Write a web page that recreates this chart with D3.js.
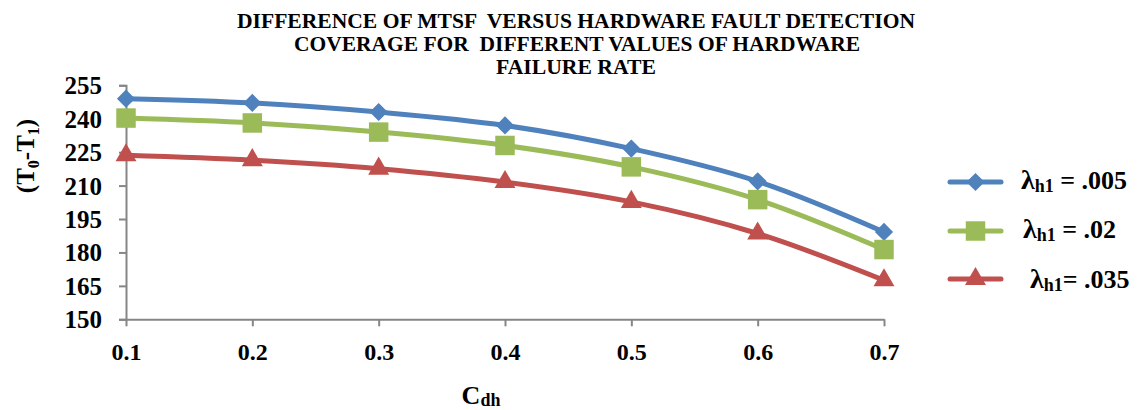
<!DOCTYPE html>
<html><head><meta charset="utf-8">
<script src="https://cdn.jsdelivr.net/npm/d3@7"></script>
<style>
body{margin:0;background:#fff;}
svg{display:block;font-family:"Liberation Serif","Times New Roman",serif;font-weight:bold;}
text{white-space:pre;}
</style></head>
<body><svg id="c" width="1140" height="410"></svg>
<script>
const categories = [0.1, 0.2, 0.3, 0.4, 0.5, 0.6, 0.7];
const series005 = [249, 247.1, 243, 237, 226.6, 211.9, 189.2];
const series02  = [240.3, 238.1, 234, 228, 218.4, 203.7, 181.3];
const series035 = [223.6, 221.4, 217.6, 211.6, 202.7, 188.5, 167.5];
const yTicks = [150, 165, 180, 195, 210, 225, 240, 255];
const seriesNames = [".005", ".02", ".035"];
const titleLines = ["DIFFERENCE OF MTSF  VERSUS HARDWARE FAULT DETECTION",
                    "COVERAGE FOR  DIFFERENT VALUES OF HARDWARE",
                    "FAILURE RATE"];

const svg = d3.select("#c");
const x = d3.scaleLinear().domain([0.1, 0.7]).range([126, 884]);
const y = d3.scaleLinear().domain([150, 255]).range([319.3, 85.3]);
const axisColor = "#868686";
const serif = "Liberation Serif";

// Title
const titleWidths = [678, 566, 160];
const titleCx = [576, 577, 576];
titleLines.forEach((t, i) => {
  svg.append("text").attr("x", titleCx[i] - titleWidths[i] / 2).attr("y", 27.5 + i * 23.3)
    .attr("font-size", 22).attr("textLength", titleWidths[i]).attr("lengthAdjust", "spacingAndGlyphs")
    .text(t);
});

// Y axis
const yAxis = svg.append("g").attr("transform", "translate(126,0)")
  .call(d3.axisLeft(y).tickValues(yTicks).tickSize(7).tickFormat(d3.format("d")));
yAxis.select(".domain").attr("stroke", axisColor).attr("stroke-width", 2);
yAxis.selectAll(".tick line").attr("stroke", axisColor).attr("stroke-width", 2);
yAxis.selectAll(".tick text").attr("font-size", 25).attr("font-family", serif)
  .attr("font-weight", "bold").attr("fill", "#000").attr("x", -24).attr("dy", "0.34em");

// X axis
const xAxis = svg.append("g").attr("transform", "translate(0,319.3)")
  .call(d3.axisBottom(x).tickValues(categories).tickSize(7).tickSizeOuter(0).tickFormat(d3.format(".1f")));
xAxis.select(".domain").attr("stroke", axisColor).attr("stroke-width", 2);
xAxis.selectAll(".tick line").attr("stroke", axisColor).attr("stroke-width", 2);
xAxis.selectAll(".tick text").attr("font-size", 24).attr("font-family", serif)
  .attr("font-weight", "bold").attr("fill", "#000").attr("y", 40.5).attr("dy", 0);

// Axis titles
const yl = svg.append("text").attr("transform", "translate(34,156) rotate(-90)")
  .attr("text-anchor", "middle").attr("font-size", 25);
yl.append("tspan").text("(T");
yl.append("tspan").attr("font-size", 16).attr("dy", 5).text("0");
yl.append("tspan").attr("dy", -5).text("-T");
yl.append("tspan").attr("font-size", 16).attr("dy", 5).text("1");
yl.append("tspan").attr("dy", -5).text(")");

const xl = svg.append("text").attr("x", 481).attr("y", 404).attr("text-anchor", "middle").attr("font-size", 26);
xl.append("tspan").text("C");
xl.append("tspan").attr("font-size", 18).attr("dy", 2).text("dh");

// Series
const colors = ["#4F81BD", "#9BBB59", "#C0504D"];
const shapes = [d3.symbolSquare, d3.symbolSquare, d3.symbolTriangle];
const sizes = [165, 380, 190];
const rot = [" rotate(45)", "", ""];
const allSeries = [series005, series02, series035];
const line = d3.line().x((d, i) => x(categories[i])).y(d => y(d)).curve(d3.curveCatmullRom.alpha(0.5));

allSeries.forEach((vals, k) => {
  svg.append("path").datum(vals).attr("d", line).attr("fill", "none")
    .attr("stroke", colors[k]).attr("stroke-width", 5).attr("stroke-linecap", "round");
  const sym = d3.symbol().type(shapes[k]).size(sizes[k]);
  svg.selectAll(null).data(vals).enter().append("path")
    .attr("d", sym).attr("fill", colors[k])
    .attr("transform", (d, i) => `translate(${x(categories[i])},${y(d)})` + rot[k]);
});

// Legend
const legY = [182, 231, 279];
const legTextX = [1021, 1023, 1030];
const legTextY = [189, 238, 288];
seriesNames.forEach((name, k) => {
  svg.append("line").attr("x1", 950).attr("x2", 1001).attr("y1", legY[k]).attr("y2", legY[k])
    .attr("stroke", colors[k]).attr("stroke-width", 5).attr("stroke-linecap", "round");
  const sym = d3.symbol().type(shapes[k]).size(sizes[k]);
  svg.append("path").attr("d", sym).attr("fill", colors[k])
    .attr("transform", `translate(975.5,${legY[k]})` + rot[k]);
  const t = svg.append("text").attr("x", legTextX[k]).attr("y", legTextY[k]).attr("font-size", 26);
  t.append("tspan").attr("font-size", 28).text("λ");
  t.append("tspan").attr("font-size", 18).attr("dy", 3).text("h1");
  t.append("tspan").attr("dy", -3).text(k === 2 ? "= " + name : " = " + name);
});
</script></body></html>
